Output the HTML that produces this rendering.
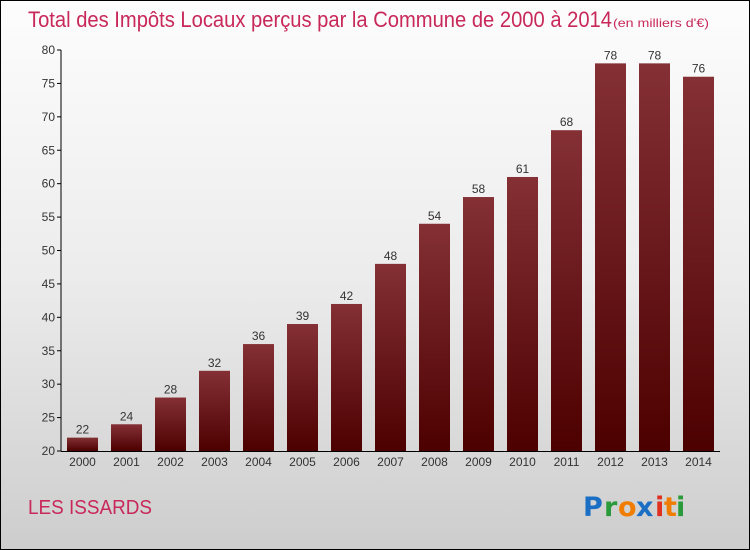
<!DOCTYPE html>
<html><head><meta charset="utf-8"><style>
body{margin:0;}
#c{width:750px;height:550px;position:relative;overflow:hidden;font-family:"Liberation Sans",sans-serif;}
</style></head><body>
<div id="c">
<svg id="s" width="750" height="550" xmlns="http://www.w3.org/2000/svg">
<defs>
<linearGradient id="bg" x1="0" y1="0" x2="0" y2="1"><stop offset="0" stop-color="#fdfdfd"/><stop offset="0.5" stop-color="#ececec"/><stop offset="1" stop-color="#cdcdcd"/></linearGradient>
<linearGradient id="bar" x1="0" y1="0" x2="0" y2="1"><stop offset="0" stop-color="#843035"/><stop offset="1" stop-color="#4d0000"/></linearGradient>
</defs>
<rect x="0.5" y="0.5" width="749" height="549" fill="url(#bg)" stroke="#000"/>
<text x="28" y="27" font-size="22" fill="#c8285a" textLength="584" lengthAdjust="spacingAndGlyphs">Total des Impôts Locaux perçus par la Commune de 2000 à 2014</text>
<text x="613" y="27" font-size="12" fill="#c8285a" textLength="96" lengthAdjust="spacingAndGlyphs">(en milliers d'€)</text>
<g id="plot"></g>
<text x="28" y="514" font-size="20" fill="#c8285a" textLength="124" lengthAdjust="spacingAndGlyphs">LES ISSARDS</text>
<g font-size="27" font-weight="bold" font-family="'DejaVu Sans',sans-serif">
<text x="583" y="516" fill="#1a6fc4">P</text><text x="604" y="516" fill="#2a9a3a">r</text><text x="618" y="516" fill="#f07d00">o</text>
<text x="636" y="516" fill="#1a6fc4">x</text><text x="655" y="516" fill="#e03020">i</text><text x="664" y="516" fill="#f07d00">t</text><text x="676" y="516" fill="#2a9a3a">i</text>
</g>
</svg>
</div>
<script>
const years=["2000","2001","2002","2003","2004","2005","2006","2007","2008","2009","2010","2011","2012","2013","2014"];
const values=[22,24,28,32,36,39,42,48,54,58,61,68,78,78,76];
const ticks=[20,25,30,35,40,45,50,55,60,65,70,75,80];
const NS="http://www.w3.org/2000/svg";
const g=document.getElementById('plot');
const y=v=>451-(v-20)*(401/60);
const x=i=>67+i*44;
function mk(t,a){const e=document.createElementNS(NS,t);for(const k in a)e.setAttribute(k,a[k]);g.appendChild(e);return e;}
ticks.forEach(t=>{
  const l=mk('line',{x1:57,x2:61,y1:y(t),y2:y(t),stroke:'#000'});
  
  
  const tx=mk('text',{x:55,y:y(t)+4,'font-size':12,'text-anchor':'end',fill:'#333'});
  tx.textContent=t;
  
  
});
values.forEach((v,i)=>{
  const r=mk('rect',{x:x(i),y:y(v),width:31,height:451-y(v),fill:'url(#bar)'});
  
  
  const lb=mk('text',{x:x(i)+15.5,y:y(v)-4,'font-size':12,'text-anchor':'middle',fill:'#333'});
  lb.textContent=v;
  
  
  const xl=mk('text',{x:x(i)+15.5,y:466,'font-size':12,'text-anchor':'middle',fill:'#333'});
  xl.textContent=years[i];
  
  
});
const ax=mk('line',{x1:61,x2:61,y1:50,y2:451,stroke:'#000'});


const xa=mk('line',{x1:61,x2:720,y1:451.5,y2:451.5,stroke:'#000'});


</script>
</body></html>
